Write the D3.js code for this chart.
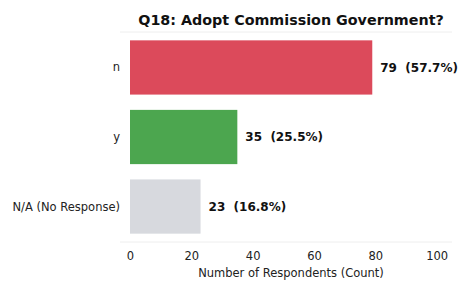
<!DOCTYPE html>
<html lang="en">
<head>
    <meta charset="UTF-8">
    <title>Q18</title>
    <script src="https://d3js.org/d3.v7.min.js"></script>
    <style>
        body { margin: 0; background: #fff; }
        svg { display: block; font-family: "DejaVu Sans", sans-serif; }
        .cat { font-size: 11.5px; fill: #222; }
        .val { font-size: 12px; font-weight: bold; fill: #111; }
    </style>
</head>
<body>
    <svg width="461" height="283"></svg>

    <script>
        const categories = ["n", "y", "N/A (No Response)"];
        const counts = [79, 35, 23];
        const percents = ["57.7%", "25.5%", "16.8%"];
        const barColors = ["#dc4a5b", "#4ca64f", "#d7d9de"];
        const xTicks = [0, 20, 40, 60, 80, 100];
        const xMax = 105;

        const svg = d3.select("svg");
        const margin = { left: 130, right: 9, top: 32, bottom: 41 };
        const W = 461, H = 283;

        const x = d3.scaleLinear()
            .domain([0, xMax])
            .range([margin.left, W - margin.right]);

        const y = d3.scaleBand()
            .domain(categories)
            .range([margin.top, H - margin.bottom])
            .paddingInner(0.22)
            .paddingOuter(0.12);

        // faint frame lines top and bottom
        svg.append("g").selectAll("line")
            .data([margin.top, H - margin.bottom])
            .enter().append("line")
            .attr("x1", margin.left - 10).attr("x2", W - margin.right)
            .attr("y1", d => d).attr("y2", d => d)
            .attr("stroke", "#eeeeee").attr("stroke-width", 1);

        svg.append("text")
            .attr("x", x(xMax / 2))
            .attr("y", 25)
            .attr("text-anchor", "middle")
            .style("font-size", "14.3px")
            .style("font-weight", "bold")
            .attr("fill", "#111")
            .text("Q18: Adopt Commission Government?");

        svg.append("g").selectAll("rect")
            .data(counts)
            .enter().append("rect")
            .attr("x", x(0))
            .attr("y", (d, i) => y(categories[i]))
            .attr("width", d => x(d) - x(0))
            .attr("height", y.bandwidth())
            .attr("fill", (d, i) => barColors[i]);

        svg.append("g").selectAll("text")
            .data(categories)
            .enter().append("text")
            .attr("class", "cat")
            .attr("x", margin.left - 10)
            .attr("y", d => y(d) + y.bandwidth() / 2)
            .attr("dy", "0.35em")
            .attr("text-anchor", "end")
            .text(d => d);

        svg.append("g").selectAll("text")
            .data(counts)
            .enter().append("text")
            .attr("class", "val")
            .attr("x", d => x(d) + 8)
            .attr("y", (d, i) => y(categories[i]) + y.bandwidth() / 2)
            .attr("dy", "0.35em")
            .attr("xml:space", "preserve")
            .text((d, i) => d + "  (" + percents[i] + ")");

        const axis = svg.append("g")
            .attr("transform", "translate(0," + (H - margin.bottom) + ")")
            .call(d3.axisBottom(x).tickValues(xTicks).tickSize(0).tickPadding(10));
        axis.select(".domain").remove();
        axis.attr("font-family", "DejaVu Sans").attr("font-size", null);
        axis.selectAll("text")
            .style("font-size", "11.5px")
            .attr("fill", "#222");

        svg.append("text")
            .attr("x", x(xMax / 2))
            .attr("y", 277)
            .attr("text-anchor", "middle")
            .style("font-size", "11.5px")
            .attr("fill", "#222")
            .text("Number of Respondents (Count)");
    </script>
</body>
</html>
